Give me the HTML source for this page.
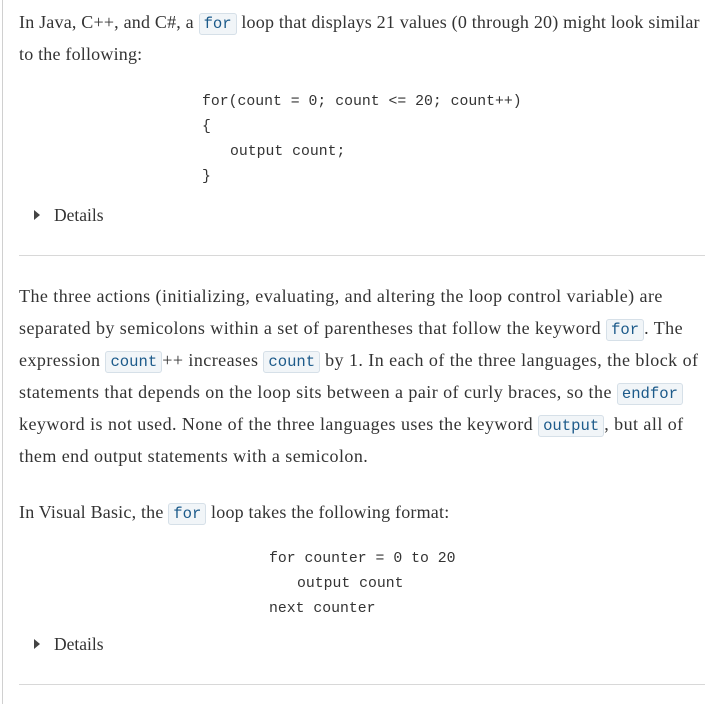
<!DOCTYPE html>
<html><head><style>
body{margin:0;width:721px;height:704px;background:#fff;position:relative;overflow:hidden;font-family:"Liberation Serif",serif;font-size:18px;color:#333}
.l{position:absolute;left:19px;height:32px;line-height:32px;white-space:nowrap;letter-spacing:0.2px}
.p{letter-spacing:0.45px}
code{font-family:"Liberation Mono",monospace;font-size:15.6px;letter-spacing:0;color:#1c5a8a;background:#f1f5f8;border:1px solid #d6e0e8;border-radius:3px;padding:1px 4px}
.c{position:absolute;font-family:"Liberation Mono",monospace;font-size:14.8px;color:#333;white-space:pre;line-height:20px}
.hr{position:absolute;left:19px;width:686px;height:1px;background:#d8d8d8}
.vb{position:absolute;left:2px;top:0;width:1px;height:704px;background:#d0d0d0}
.d{position:absolute;left:34px;height:32px;line-height:32px;font-size:17.5px}
.d span{display:inline-block;width:0;height:0;border-left:6px solid #444;border-top:5px solid transparent;border-bottom:5px solid transparent;margin-right:14px;vertical-align:1px}
</style></head><body>
<div class="vb"></div>
<div class="l" style="top:6px">In Java, C++, and C#, a <code>for</code> loop that displays 21 values (0 through 20) might look similar</div>
<div class="l" style="top:38px">to the following:</div>
<div class="c" style="left:202px;top:92px">for(count = 0; count &lt;= 20; count++)</div>
<div class="c" style="left:202px;top:117px">{</div>
<div class="c" style="left:230px;top:142px">output count;</div>
<div class="c" style="left:202px;top:167px">}</div>
<div class="d" style="top:199px"><span></span>Details</div>
<div class="hr" style="top:255px"></div>
<div class="l p" style="top:280px">The three actions (initializing, evaluating, and altering the loop control variable) are</div>
<div class="l p" style="top:312px">separated by semicolons within a set of parentheses that follow the keyword <code>for</code>. The</div>
<div class="l p" style="top:344px">expression <code>count</code>++ increases <code>count</code> by 1. In each of the three languages, the block of</div>
<div class="l p" style="top:376px">statements that depends on the loop sits between a pair of curly braces, so the <code>endfor</code></div>
<div class="l p" style="top:408px">keyword is not used. None of the three languages uses the keyword <code>output</code>, but all of</div>
<div class="l p" style="top:440px">them end output statements with a semicolon.</div>
<div class="l" style="top:496px">In Visual Basic, the <code>for</code> loop takes the following format:</div>
<div class="c" style="left:269px;top:549px">for counter = 0 to 20</div>
<div class="c" style="left:297px;top:574px">output count</div>
<div class="c" style="left:269px;top:599px">next counter</div>
<div class="d" style="top:628px"><span></span>Details</div>
<div class="hr" style="top:684px"></div>
</body></html>
